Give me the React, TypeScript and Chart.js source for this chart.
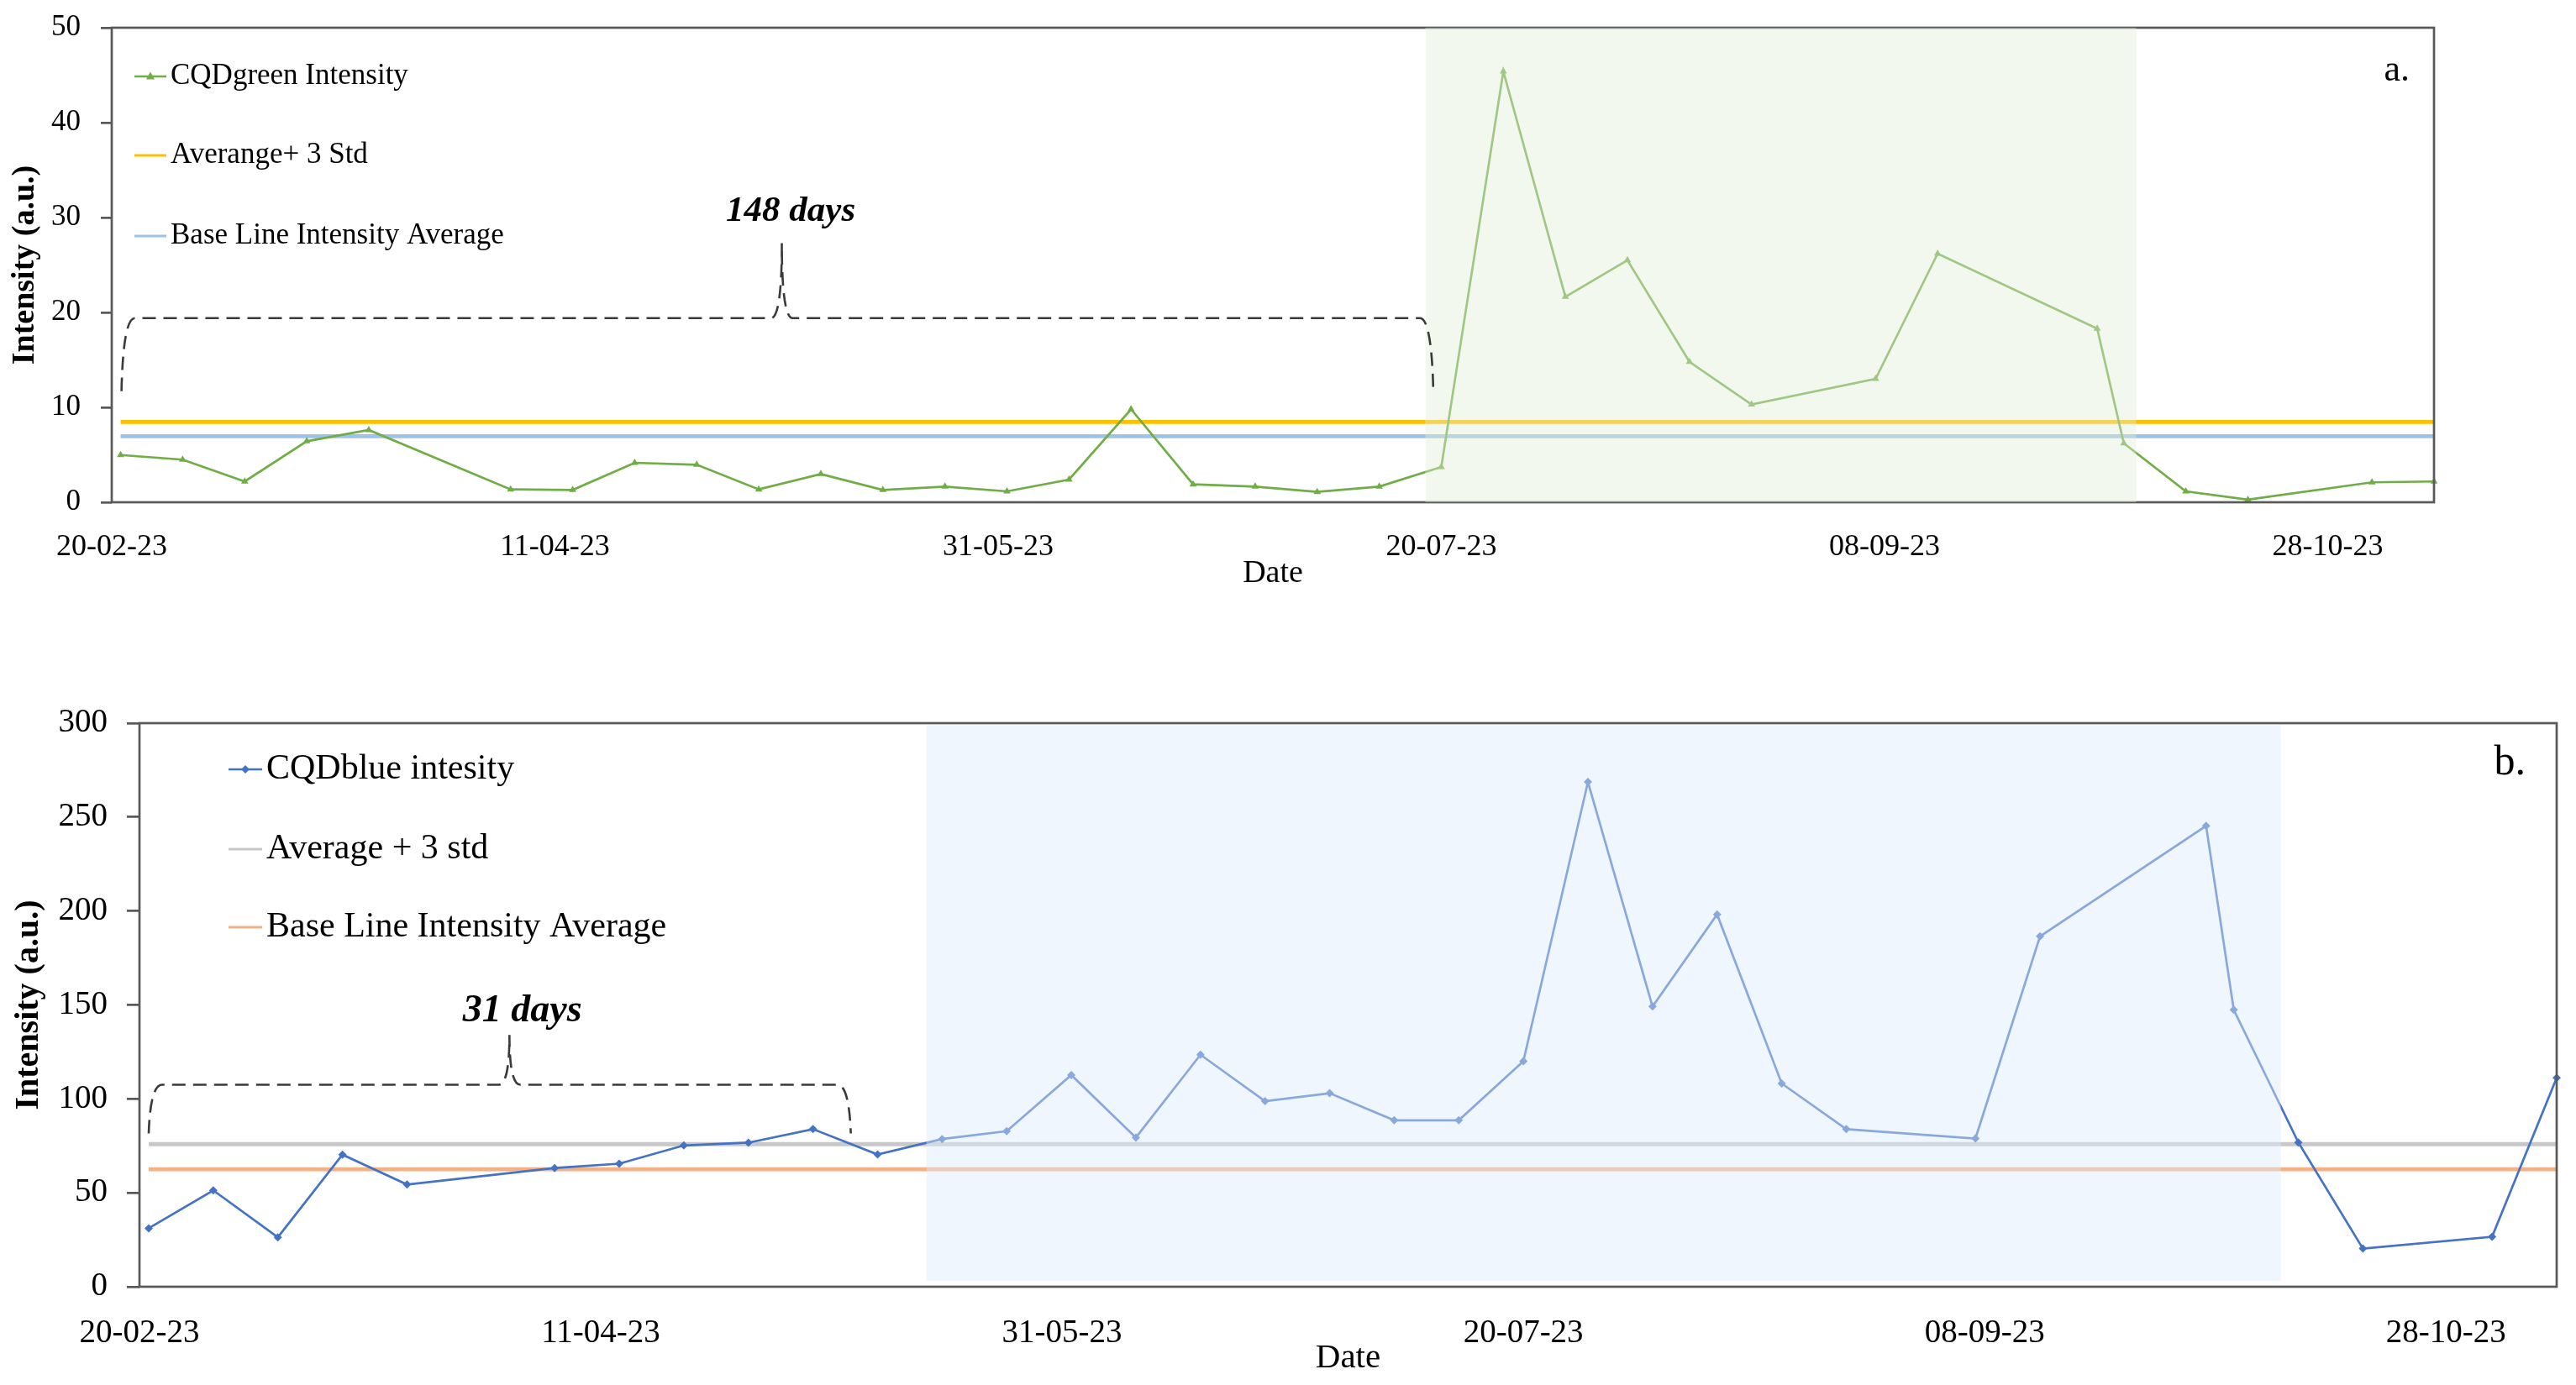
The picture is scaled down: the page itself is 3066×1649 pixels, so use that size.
import React, { useEffect, useRef } from 'react';
import { Chart, registerables } from 'chart.js';

Chart.register(...registerables);

// ---------------- data ----------------
const axisStartDate = '20-02-23';
const axisEndDate = '09-11-23';
const xTickDates = ['20-02-23', '11-04-23', '31-05-23', '20-07-23', '08-09-23', '28-10-23'];

const sampleDates = [
  '21-02-23', '28-02-23', '07-03-23', '14-03-23', '21-03-23',
  '06-04-23', '13-04-23', '20-04-23', '27-04-23', '04-05-23',
  '11-05-23', '18-05-23', '25-05-23', '01-06-23', '08-06-23',
  '15-06-23', '22-06-23', '29-06-23', '06-07-23', '13-07-23',
  '20-07-23', '27-07-23', '03-08-23', '10-08-23', '17-08-23',
  '24-08-23', '07-09-23', '14-09-23', '02-10-23', '05-10-23',
  '12-10-23', '19-10-23', '02-11-23', '09-11-23',
];

const greenIntensity = [
  4.98, 4.49, 2.19, 6.43, 7.61, 1.36, 1.3, 4.16, 3.95, 1.36,
  2.98, 1.3, 1.65, 1.15, 2.39, 9.8, 1.89, 1.65, 1.09, 1.65,
  3.72, 45.4, 21.65, 25.5, 14.8, 10.3, 13.0, 26.2, 18.3, 6.22,
  1.15, 0.27, 2.1, 2.19,
];
const greenAvgPlus3Std = 8.47;
const greenBaseAverage = 6.96;

const blueIntensity = [
  31.1, 51.3, 26.3, 70.3, 54.4, 63.2, 65.5, 75.2, 76.7, 83.9,
  70.4, 78.6, 82.8, 112.7, 79.4, 123.5, 98.8, 103, 88.6, 88.6,
  120, 268.7, 149.2, 198.2, 108.2, 83.9, 78.9, 186.5, 245.3, 147.4,
  76.8, 20.3, 26.6, 111.2,
];
const blueAvgPlus3Std = 75.9;
const blueBaseAverage = 62.5;

const greenYTicks = [0, 10, 20, 30, 40, 50];
const blueYTicks = [0, 50, 100, 150, 200, 250, 300];

// shaded windows (day offsets from axis start) and brace annotations
const greenWindow = [148.2, 228.4];
const blueWindow = [85.3, 232.1];
const greenBrace = { from: 1.1, to: 149.1, mid: 75.6, level: 19.4, tip: 11.7, peak: 27.3, textX: 76.6, textY: 30.6, text: '148 days' };
const blueBrace = { from: 1.0, to: 77.1, mid: 40.1, level: 107.5, tip: 81.6, peak: 134, textX: 41.5, textY: 146.6, text: '31 days' };

// ---------------- helpers ----------------
const SERIF = '"Liberation Serif", "Times New Roman", serif';
const DAY = 86400000;
function toUTC(s: string) {
  const [d, m, y] = s.split('-').map(Number);
  return Date.UTC(2000 + y, m - 1, d);
}
const BASE = toUTC(axisStartDate);
function dayOf(s: string) {
  return Math.round((toUTC(s) - BASE) / DAY);
}
function fmtDay(v: number) {
  const dt = new Date(BASE + Math.round(v) * DAY);
  const p = (n: number) => String(n).padStart(2, '0');
  return `${p(dt.getUTCDate())}-${p(dt.getUTCMonth() + 1)}-${p(dt.getUTCFullYear() % 100)}`;
}

type Panel = {
  values: number[];
  labels: string[];
  colors: string[];
  refValues: number[];
  marker: any;
  yTicks: number[];
  window: number[];
  windowY: number[] | null;
  shade: string;
  brace: any;
  letter: string;
  g: any;
};

function drawMarker(ctx: CanvasRenderingContext2D, style: string, x: number, y: number, r: number, color: string) {
  ctx.save();
  ctx.fillStyle = color;
  ctx.beginPath();
  if (style === 'triangle') {
    ctx.moveTo(x, y - r * 1.1);
    ctx.lineTo(x + r, y + r * 0.7);
    ctx.lineTo(x - r, y + r * 0.7);
  } else {
    ctx.moveTo(x, y - r);
    ctx.lineTo(x + r, y);
    ctx.lineTo(x, y + r);
    ctx.lineTo(x - r, y);
  }
  ctx.closePath();
  ctx.fill();
  ctx.restore();
}

function makeOverlay(p: Panel) {
  return {
    id: 'overlay',
    afterDraw(chart: any) {
      const ctx: CanvasRenderingContext2D = chart.ctx;
      const a = chart.chartArea;
      const xs = chart.scales.x;
      const ys = chart.scales.y;
      const g = p.g;
      const off = g.offset;
      ctx.save();
      // frame
      ctx.strokeStyle = '#595959';
      ctx.lineWidth = 2.7;
      ctx.strokeRect(a.left, a.top, a.right - a.left, a.bottom - a.top);
      // shaded window (semi-transparent, above the lines)
      const sx0 = xs.getPixelForValue(p.window[0]);
      const sx1 = xs.getPixelForValue(p.window[1]);
      const sy0 = p.windowY ? ys.getPixelForValue(p.windowY[1]) : a.top;
      const sy1 = p.windowY ? ys.getPixelForValue(p.windowY[0]) : a.bottom;
      ctx.fillStyle = p.shade;
      ctx.fillRect(sx0, sy0, sx1 - sx0, sy1 - sy0);
      // brace
      const b = p.brace;
      const xL = xs.getPixelForValue(b.from);
      const xR = xs.getPixelForValue(b.to);
      const xM = xs.getPixelForValue(b.mid);
      const yLev = ys.getPixelForValue(b.level);
      const yTip = ys.getPixelForValue(b.tip);
      const yPk = ys.getPixelForValue(b.peak);
      ctx.strokeStyle = '#3a3a3a';
      ctx.lineWidth = 2.6;
      ctx.setLineDash([16, 9]);
      ctx.beginPath();
      ctx.moveTo(xL, yTip);
      ctx.quadraticCurveTo(xL + 2, yLev, xL + 16, yLev);
      ctx.lineTo(xM - 13, yLev);
      ctx.quadraticCurveTo(xM, yLev, xM, yPk);
      ctx.quadraticCurveTo(xM, yLev, xM + 13, yLev);
      ctx.lineTo(xR - 16, yLev);
      ctx.quadraticCurveTo(xR - 2, yLev, xR, yTip);
      ctx.stroke();
      ctx.setLineDash([]);
      ctx.fillStyle = '#000';
      ctx.font = `italic bold ${g.braceFont}px ${SERIF}`;
      ctx.textAlign = 'center';
      ctx.textBaseline = 'middle';
      ctx.fillText(b.text, xs.getPixelForValue(b.textX), ys.getPixelForValue(b.textY));
      // legend
      ctx.font = `${g.legendFont}px ${SERIF}`;
      ctx.textAlign = 'left';
      ctx.textBaseline = 'middle';
      p.labels.forEach((lab, i) => {
        const y = g.legendY[i] + off;
        ctx.strokeStyle = p.colors[i];
        ctx.lineWidth = i === 0 ? 2.7 : 3.2;
        ctx.beginPath();
        ctx.moveTo(g.legendX0, y);
        ctx.lineTo(g.legendX1, y);
        ctx.stroke();
        if (i === 0) drawMarker(ctx, p.marker, (g.legendX0 + g.legendX1) / 2, y, 5, p.colors[0]);
        ctx.fillStyle = '#000';
        ctx.fillText(lab, g.legendText, y);
      });
      // panel letter
      ctx.font = `${g.letterFont}px ${SERIF}`;
      ctx.textAlign = 'right';
      ctx.textBaseline = 'alphabetic';
      ctx.fillText(p.letter, g.letterX, g.letterY + off);
      // axis titles
      ctx.font = `${g.dateFont}px ${SERIF}`;
      ctx.textAlign = 'center';
      ctx.textBaseline = 'middle';
      ctx.fillText('Date', (a.left + a.right) / 2, g.dateY + off);
      ctx.save();
      ctx.translate(g.yTitleX, (a.top + a.bottom) / 2);
      ctx.rotate(-Math.PI / 2);
      ctx.font = `bold ${g.yTitleFont}px ${SERIF}`;
      ctx.fillText('Intensity (a.u.)', 0, 0);
      ctx.restore();
      ctx.restore();
    },
  };
}

function buildConfig(p: Panel): any {
  const g = p.g;
  const x0 = dayOf(sampleDates[0]);
  const x1 = dayOf(sampleDates[sampleDates.length - 1]);
  const main = sampleDates.map((d, i) => ({ x: dayOf(d), y: p.values[i] }));
  return {
    type: 'line',
    data: {
      datasets: [
        {
          label: p.labels[0],
          data: main,
          borderColor: p.colors[0],
          backgroundColor: p.colors[0],
          borderWidth: 2.7,
          pointStyle: p.marker,
          pointRadius: 5,
          pointBorderWidth: 0,
          tension: 0,
          clip: false,
        },
        {
          label: p.labels[1],
          data: [{ x: x0, y: p.refValues[0] }, { x: x1, y: p.refValues[0] }],
          borderColor: p.colors[1],
          borderWidth: 4.8,
          pointRadius: 0,
          clip: false,
        },
        {
          label: p.labels[2],
          data: [{ x: x0, y: p.refValues[1] }, { x: x1, y: p.refValues[1] }],
          borderColor: p.colors[2],
          borderWidth: 4.8,
          pointRadius: 0,
          clip: false,
        },
      ],
    },
    options: {
      responsive: false,
      animation: false,
      devicePixelRatio: 1,
      layout: { autoPadding: false, padding: { top: g.padTop + g.offset, right: g.padRight, left: 0, bottom: 0 } },
      plugins: { legend: { display: false }, tooltip: { enabled: false }, title: { display: false } },
      scales: {
        x: {
          type: 'linear',
          min: 0,
          max: dayOf(axisEndDate),
          afterFit: (s: any) => { s.height = g.xAxisH; },
          afterBuildTicks: (s: any) => { s.ticks = xTickDates.map((d) => ({ value: dayOf(d) })); },
          grid: { display: false, drawTicks: false },
          border: { display: false },
          ticks: {
            callback: (v: number) => fmtDay(v),
            font: { family: SERIF, size: g.xTickFont },
            color: '#000',
            padding: g.xTickPad,
            maxRotation: 0,
            autoSkip: false,
          },
        },
        y: {
          min: p.yTicks[0],
          max: p.yTicks[p.yTicks.length - 1],
          afterFit: (s: any) => { s.width = g.yAxisW; },
          afterBuildTicks: (s: any) => { s.ticks = p.yTicks.map((v) => ({ value: v })); },
          grid: { drawOnChartArea: false, drawTicks: true, tickLength: g.tickLen, color: '#595959', lineWidth: 2.7 },
          border: { display: false },
          ticks: {
            font: { family: SERIF, size: g.yTickFont },
            color: '#000',
            padding: g.yTickPad,
          },
        },
      },
    },
    plugins: [makeOverlay(p)],
  };
}

const panelA: Panel = {
  values: greenIntensity,
  labels: ['CQDgreen Intensity', 'Averange+ 3 Std', 'Base Line Intensity Average'],
  colors: ['#70AD47', '#FFC000', '#9DC3E6'],
  refValues: [greenAvgPlus3Std, greenBaseAverage],
  marker: 'triangle',
  yTicks: greenYTicks,
  window: greenWindow,
  windowY: null,
  shade: 'rgba(226,239,218,0.42)',
  brace: greenBrace,
  letter: 'a.',
  g: {
    offset: 40,
    padTop: 33, padRight: 169, yAxisW: 133, xAxisH: 122, tickLen: 13,
    xTickFont: 36, yTickFont: 35, xTickPad: 32, yTickPad: 24,
    legendFont: 35, legendX0: 160, legendX1: 198, legendText: 203, legendY: [91, 185, 281],
    letterFont: 44, letterX: 2868, letterY: 96,
    dateFont: 38, dateY: 683, yTitleX: 30, yTitleFont: 38, braceFont: 43,
  },
};

const panelB: Panel = {
  values: blueIntensity,
  labels: ['CQDblue intesity', 'Average + 3 std', 'Base Line Intensity Average'],
  colors: ['#4472C4', '#C8C8C8', '#F4B183'],
  refValues: [blueAvgPlus3Std, blueBaseAverage],
  marker: 'rectRot',
  yTicks: blueYTicks,
  window: blueWindow,
  windowY: [3.1, 299],
  shade: 'rgba(222,235,250,0.45)',
  brace: blueBrace,
  letter: 'b.',
  g: {
    offset: 0,
    padTop: 61, padRight: 23, yAxisW: 166, xAxisH: 117, tickLen: 15,
    xTickFont: 39, yTickFont: 39, xTickPad: 32, yTickPad: 23,
    legendFont: 42, legendX0: 272, legendX1: 312, legendText: 317, legendY: [116, 211, 304],
    letterFont: 50, letterX: 3006, letterY: 122,
    dateFont: 41, dateY: 817, yTitleX: 35, yTitleFont: 40, braceFont: 46,
  },
};

function PanelChart({ panel, top, height }: { panel: Panel; top: number; height: number }) {
  const ref = useRef<HTMLCanvasElement>(null);
  useEffect(() => {
    const chart = new Chart(ref.current as HTMLCanvasElement, buildConfig(panel));
    return () => chart.destroy();
  }, []);
  return (
    <canvas
      ref={ref}
      width={3066}
      height={height}
      style={{ position: 'absolute', left: 0, top, width: 3066, height }}
    />
  );
}

export default function App() {
  return (
    <div style={{ position: 'absolute', left: 0, top: 0, width: 3066, height: 1649, background: '#fff', overflow: 'hidden' }}>
      <PanelChart panel={panelA} top={-40} height={760} />
      <PanelChart panel={panelB} top={800} height={849} />
    </div>
  );
}
